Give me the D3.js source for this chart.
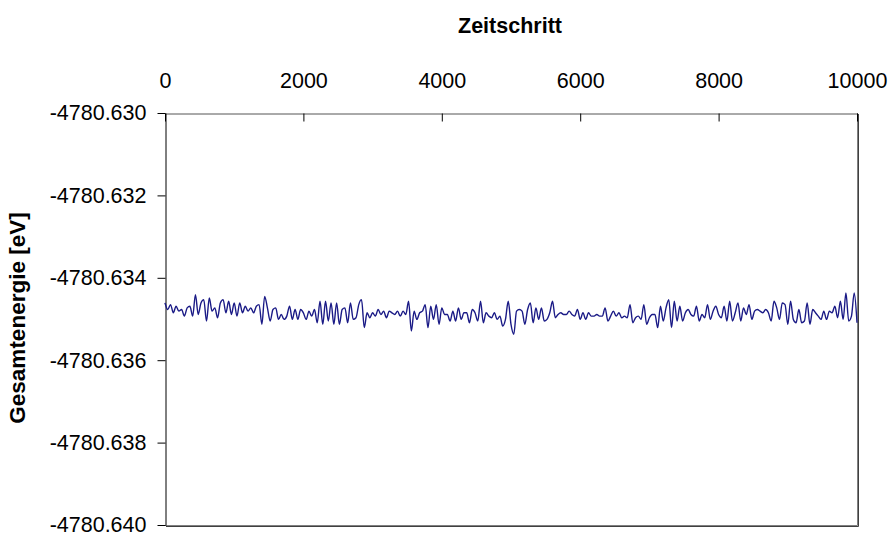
<!DOCTYPE html>
<html>
<head>
<meta charset="utf-8">
<script src="https://cdn.jsdelivr.net/npm/d3@7"></script>
<style>
  html, body { margin: 0; padding: 0; background: #ffffff; }
  svg { display: block; }
  text { font-family: "Liberation Sans", Arial, sans-serif; fill: #000; }
</style>
</head>
<body>
<div id="chart"></div>
<script>
// ---------------- data ----------------
const xTitle = "Zeitschritt";
const yTitle = "Gesamtenergie [eV]";
const xTicks = [0, 2000, 4000, 6000, 8000, 10000];
const yTicks = [-4780.640, -4780.638, -4780.636, -4780.634, -4780.632, -4780.630];
const timestepInterval = 40;            // one sample every 40 time steps
const energyBase = -4780.635;           // eV
// total energy, offset from energyBase in micro-eV, one value per sample (0 ... 10000)
const energyOffsetMicroEV = [
  390, 230, 350, 150, 310, 190, 230, 70, 270, 310,
  70, 590, 110, 390, 470, -50, 510, 190, 270, 30,
  390, 470, 150, 430, 110, 390, 70, 390, 150, 310,
  190, 270, 150, 310, 350, -130, 550, 270, -50, 230,
  270, -10, 110, -10, 70, 310, -10, 230, -10, 230,
  150, -10, 190, 70, 230, -90, 430, -130, 430, -50,
  390, -130, 390, -130, 230, 270, -90, 390, -10, 30,
  350, 470, -210, 150, 30, 150, 70, 230, 110, 190,
  30, 190, 150, 110, 190, 70, 190, 110, 430, -290,
  190, -10, 150, 190, 350, -210, 310, -10, 350, -130,
  270, 110, 110, -50, 190, -50, 270, -10, 150, 150,
  -90, 230, 150, -50, 430, -90, 150, 70, 30, 150,
  -10, 70, -170, -10, 430, -130, -370, 190, 230, 190,
  -130, 230, 390, -90, 270, -10, 270, -50, -10, 150,
  430, 30, 110, 150, 110, 110, 190, 110, 70, 230,
  -10, 150, -10, 150, 70, 70, 110, 70, 70, 270,
  -50, 70, 190, 70, 150, 30, 70, 30, 350, -90,
  30, 70, -10, 350, -130, 30, 110, 110, -210, 310,
  -50, 270, 470, -210, 430, -50, 310, -50, 150, 230,
  110, 70, 310, -50, 110, 30, 350, -10, 190, 310,
  110, 30, 310, -50, 430, -50, 150, 390, -50, 270,
  110, 350, -10, 190, 230, 190, 150, 230, 150, -50,
  430, 270, -10, 390, 350, -130, 430, -10, -90, 230,
  -90, -50, 390, -130, 230, 150, 70, -10, 190, -10,
  190, 150, 310, 30, 430, -10, 630, -50, 70, 630,
  -90
];

// ---------------- chart ----------------
const W = 891, H = 536;
const plot = { left: 165, right: 857, top: 113, bottom: 525 };

const svg = d3.select("#chart").append("svg")
  .attr("width", W).attr("height", H);

const x = d3.scaleLinear().domain([0, 10000]).range([plot.left, plot.right]);
const y = d3.scaleLinear().domain([-4780.640, -4780.630]).range([plot.bottom, plot.top]);

const series = energyOffsetMicroEV.map((d, i) => ({
  step: i * timestepInterval,
  energy: energyBase + d * 1e-6
}));

// plot frame (right and bottom border)
svg.append("path")
  .attr("d", `M${plot.left},${plot.bottom + 0.5}H${plot.right + 0.5}V${plot.top}`)
  .attr("fill", "none").attr("stroke", "#808080").attr("stroke-width", 1);
svg.append("path")
  .attr("d", `M${plot.left + 1},${plot.bottom + 1.5}H${plot.right + 1.5}V${plot.top + 1}`)
  .attr("fill", "none").attr("stroke", "#404040").attr("stroke-width", 1);

const fontSize = 21.5;

// top x axis
const xAxis = d3.axisTop(x).tickValues(xTicks).tickFormat(d3.format("d"))
  .tickSizeInner(-8).tickSizeOuter(0).tickPadding(26);
const gx = svg.append("g").attr("transform", `translate(0,${plot.top + 0.5})`).call(xAxis);
gx.select(".domain").attr("stroke", "#555");
gx.selectAll(".tick line").attr("stroke", "#000");
gx.selectAll(".tick text").attr("font-size", fontSize)
  .attr("font-family", "Liberation Sans, Arial, sans-serif");

// left y axis
const hyphenFormat = d => d3.format(".3f")(d).replace("\u2212", "-");
const yAxis = d3.axisLeft(y).tickValues(yTicks).tickFormat(hyphenFormat)
  .tickSizeInner(8).tickSizeOuter(0).tickPadding(11);
const gy = svg.append("g").attr("transform", `translate(${plot.left + 0.5},0)`).call(yAxis);
gy.select(".domain").attr("stroke", "#000");
gy.selectAll(".tick line").attr("stroke", "#000");
gy.selectAll(".tick text").attr("font-size", fontSize)
  .attr("font-family", "Liberation Sans, Arial, sans-serif");

// data line
const line = d3.line().curve(d3.curveMonotoneX)
  .x(d => x(d.step)).y(d => y(d.energy));
svg.append("path").datum(series)
  .attr("d", line)
  .attr("fill", "none")
  .attr("stroke", "#1a1a86")
  .attr("stroke-width", 1.4)
  .attr("stroke-linejoin", "round");

// titles
svg.append("text")
  .attr("x", 510).attr("y", 33)
  .attr("text-anchor", "middle")
  .attr("font-weight", "bold").attr("font-size", fontSize)
  .text(xTitle);

svg.append("text")
  .attr("transform", `translate(25,318) rotate(-90)`)
  .attr("text-anchor", "middle")
  .attr("font-weight", "bold").attr("font-size", 22.5)
  .text(yTitle);
</script>
</body>
</html>
